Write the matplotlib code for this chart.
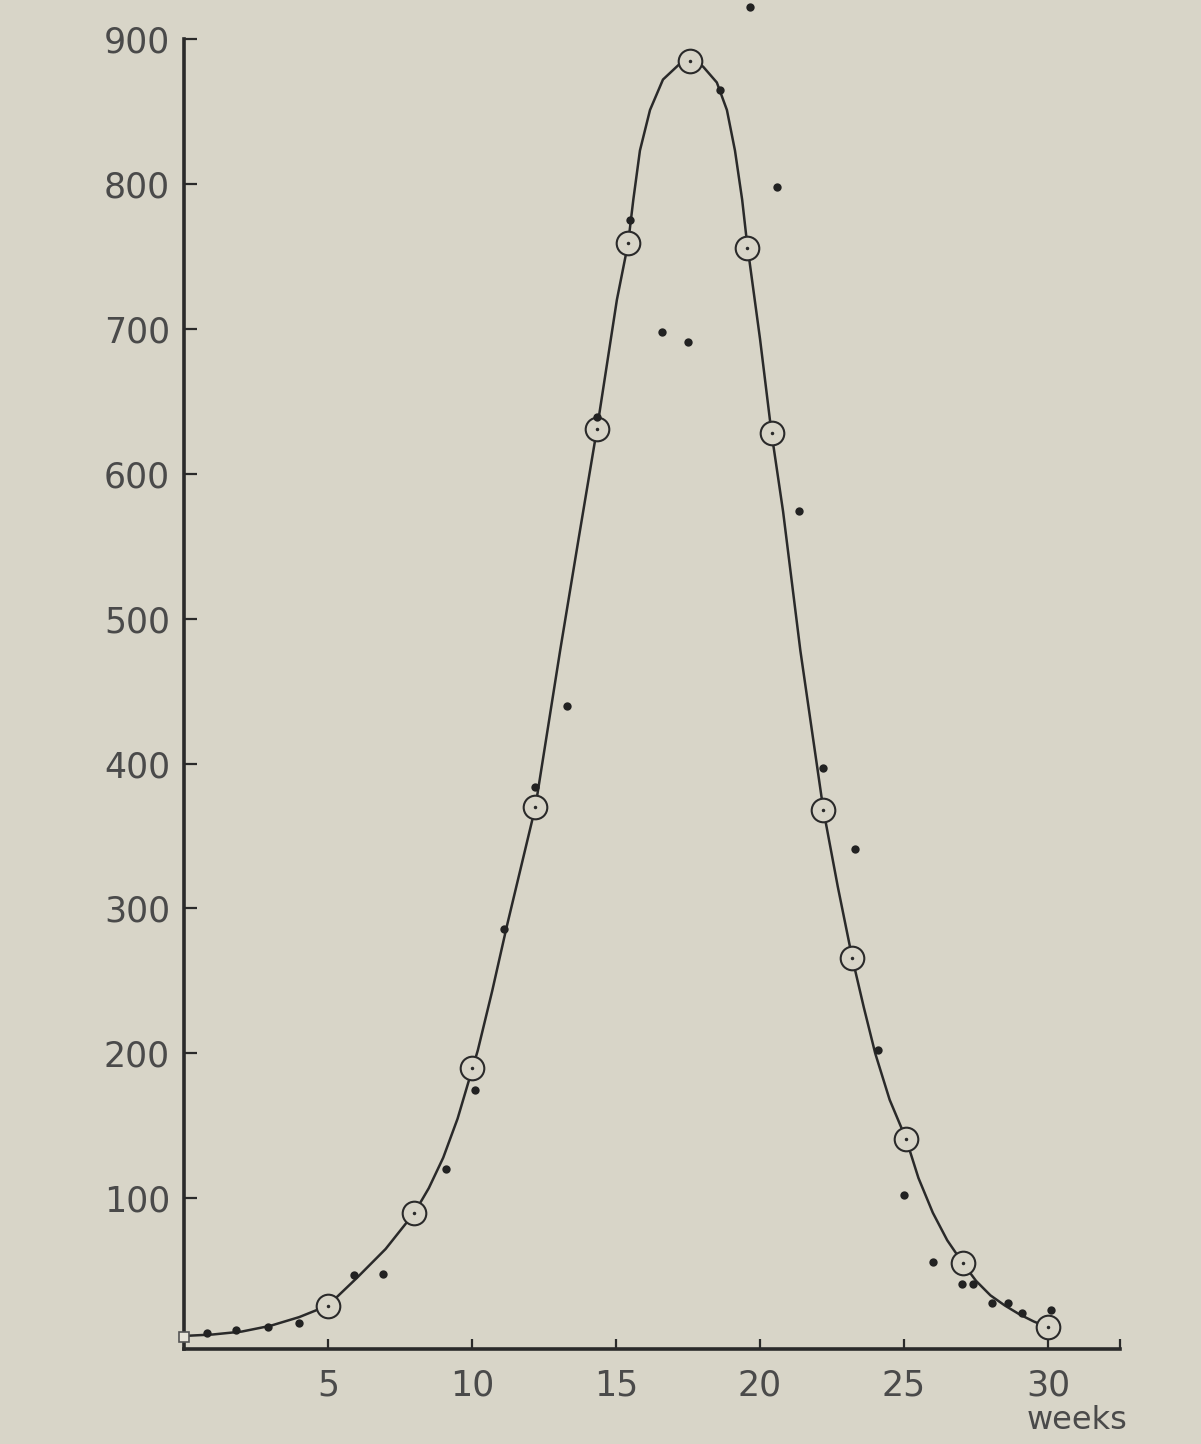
import matplotlib
matplotlib.use("Agg")
import matplotlib.pyplot as plt

# --- values ---
# smooth fitted curve
curve_weeks = [0, 1, 2, 3, 4, 5, 6, 7, 8, 8.5, 9, 9.5, 10.2, 10.7, 11.2, 12.2, 13.06,
               13.7, 14.34, 15.03, 15.42, 15.6, 15.83, 16.18, 16.63, 17.22, 17.57,
               18.02, 18.5, 18.85, 19.13, 19.38, 19.55, 20.0, 20.4, 20.8, 21.4, 22.2,
               22.7, 23.2, 23.6, 24.0, 24.5, 25.07, 25.5, 26.0, 26.5, 27.05, 27.5,
               28.0, 28.5, 29.0, 29.5, 30.0]
curve_vals = [5, 6, 8, 12, 18, 26, 45, 65, 90, 107, 128, 155, 202, 243, 287, 370, 478,
              555, 631, 720, 759, 789, 823, 851, 872, 883, 885,
              881, 870, 851, 823, 789, 759, 693, 628, 574, 478, 368,
              315, 266, 232, 200, 168, 141, 114, 90, 71, 55, 43,
              33, 26, 20, 15, 11]

# circled points on the curve
circle_weeks = [5, 8, 10, 12.2, 14.34, 15.42, 17.57, 19.55, 20.4, 22.2, 23.2, 25.07, 27.05, 30]
circle_vals = [26, 90, 190, 370, 631, 759, 885, 756, 628, 368, 266, 141, 55, 11]

# observed weekly values (small dots)
dot_weeks = [0.8, 1.8, 2.9, 4.0, 5.9, 6.9, 9.1, 10.1, 11.1, 12.2, 13.3, 14.34, 15.5,
             16.6, 17.5, 18.6, 19.65, 20.6, 21.35, 22.2, 23.3, 24.1, 25.0, 26.0,
             27.0, 27.4, 28.05, 28.6, 29.1, 30.1]
dot_vals = [7, 9, 11, 14, 47, 48, 120, 175, 286, 384, 440, 639, 775,
            698, 691, 865, 922, 798, 574, 397, 341, 202, 102, 56,
            41, 41, 28, 28, 21, 23]

# starting point at the origin (small open square)
start_weeks = [0]
start_vals = [4]

xtick_pos = [5, 10, 15, 20, 25, 30, 32.5]
xtick_lab = ["5", "10", "15", "20", "25", "30", ""]
ytick_pos = [100, 200, 300, 400, 500, 600, 700, 800, 900]
ytick_lab = ["100", "200", "300", "400", "500", "600", "700", "800", "900"]

bg = "#d8d5c8"
ink = "#2a2a2a"
txt = "#4a4a4a"

fig = plt.figure(figsize=(12.01, 14.44), dpi=100, facecolor=bg)
ax = fig.add_axes([0.1532, 0.0658, 0.7794, 0.9072])
ax.set_facecolor(bg)
ax.set_xlim(0, 32.5)
ax.set_ylim(-4, 900)

ax.plot(curve_weeks, curve_vals, color=ink, lw=1.8, zorder=2, clip_on=False)
ax.plot(circle_weeks, circle_vals, "o", ms=17, mfc=bg, mec=ink, mew=1.5,
        zorder=3, clip_on=False)
ax.plot(circle_weeks, circle_vals, "o", ms=1.5, color=ink, zorder=4, clip_on=False)
ax.plot(dot_weeks, dot_vals, "o", ms=6, color="#222222", mew=0, zorder=5, clip_on=False)
ax.plot(start_weeks, start_vals, "s", ms=7, mfc="#e6e3d8", mec="#555555", mew=1.2,
        zorder=6, clip_on=False)

for s in ["top", "right"]:
    ax.spines[s].set_visible(False)
for s in ["left", "bottom"]:
    ax.spines[s].set_linewidth(2.6)
    ax.spines[s].set_color(ink)

ax.set_xticks(xtick_pos)
ax.set_xticklabels(xtick_lab)
ax.set_yticks(ytick_pos)
ax.set_yticklabels(ytick_lab)
ax.tick_params(axis="y", direction="in", length=9, width=1.6, color=ink,
               labelsize=25, labelcolor=txt, pad=10)
ax.tick_params(axis="x", direction="in", length=7, width=1.6, color=ink,
               labelsize=25, labelcolor=txt, pad=14)

fig.text(0.939, 0.0166, "weeks", ha="right", va="center", fontsize=23, color=txt)

fig.savefig("out.png", dpi=100, facecolor=bg)
